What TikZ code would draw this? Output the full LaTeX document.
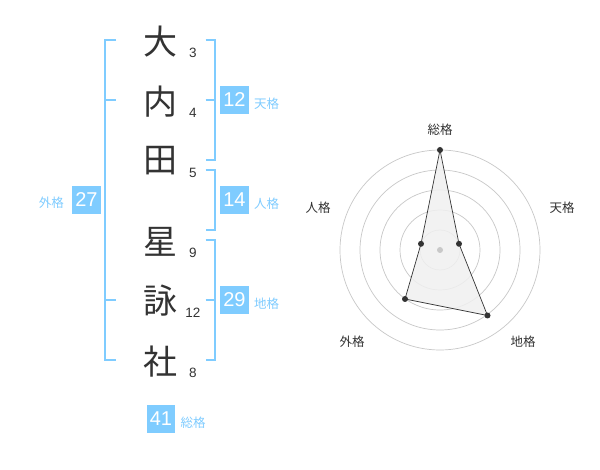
\documentclass[tikz,border=0pt]{standalone}
\usepackage{fontspec}
\setmainfont{Liberation Sans}
\newfontfamily\jp{Noto Sans CJK JP}
\usetikzlibrary{positioning}
\definecolor{kakublue}{HTML}{7FCCFF}
\definecolor{ink}{HTML}{333333}
\definecolor{ring}{HTML}{C8C8C8}
\definecolor{area}{HTML}{F0F0F0}

\begin{document}
\begin{tikzpicture}[x=1pt, y=-1pt,
    kanji/.style={font=\jp\fontsize{34}{34}\selectfont, text=ink, inner sep=0},
    stroke/.style={font=\fontsize{13.5}{13.5}\selectfont, text=ink, inner sep=0},
    score/.style={fill=kakublue, text=white, font=\fontsize{20}{20}\selectfont, minimum size=28.5pt, inner sep=0},
    kaku/.style={font=\jp\fontsize{12.5}{12.5}\selectfont, text=kakublue, inner sep=0},
    brace/.style={draw=kakublue, line width=2pt},
    axis/.style={font=\jp\fontsize{12.5}{12.5}\selectfont, text=ink, inner sep=0},
    dot/.style={circle, fill=ink, inner sep=0, minimum size=6pt}
]
\fill[white] (0,0) rectangle (600,470);
\useasboundingbox (0,0) rectangle (600,470);

% Name characters
\node[kanji] (k1) at (160,42) {大};
\node[kanji] (k2) at (160,102) {内};
\node[kanji] (k3) at (160,161) {田};
\node[kanji] (k4) at (160,242) {星};
\node[kanji] (k5) at (160,301) {詠};
\node[kanji] (k6) at (160,362) {社};

% Stroke counts
\node[stroke] (n1) at (193,53) {3};
\node[stroke] (n2) at (193,113) {4};
\node[stroke] (n3) at (193,173) {5};
\node[stroke] (n4) at (193,253) {9};
\node[stroke] (n5) at (193,313) {12};
\node[stroke] (n6) at (193,373) {8};

% Brackets
\draw[brace] (116,40) -- (105,40) -- (105,360) -- (116,360);
\draw[brace] (105,100) -- (116,100);
\draw[brace] (105,300) -- (116,300);
\draw[brace] (205.5,40) -- (215,40) -- (215,160) -- (205.5,160);
\draw[brace] (205.5,100) -- (215,100);
\draw[brace] (205.5,170) -- (215,170) -- (215,230) -- (205.5,230);
\draw[brace] (205.5,240) -- (215,240) -- (215,360) -- (205.5,360);
\draw[brace] (205.5,300) -- (215,300);

% Scores
\node[score] (s27) at (86.5,200) {27};
\node[score] (s12) at (234.5,100) {12};
\node[score] (s14) at (234.5,200) {14};
\node[score] (s29) at (234.5,300) {29};
\node[score] (s41) at (161,419) {41};

\node[kaku, left=8pt of s27, yshift=-3pt] (l27) {外格};
\node[kaku, right=5pt of s12, yshift=-4pt] (l12) {天格};
\node[kaku, right=5pt of s14, yshift=-4pt] (l14) {人格};
\node[kaku, right=5pt of s29, yshift=-4pt] (l29) {地格};
\node[kaku, right=5pt of s41, yshift=-4pt] (l41) {総格};

% Radar chart
\coordinate (C) at (440,250);
\foreach \r in {20,40,...,100}
  \draw[ring, line width=0.7pt] (C) circle[radius=\r pt];

\coordinate (v1) at (440,150);
\coordinate (v2) at (459,243.8);
\coordinate (v3) at (487.5,315.5);
\coordinate (v4) at (405,299);
\coordinate (v5) at (421,243.8);
\draw[fill=area, fill opacity=0.85, draw=ink, line width=0.7pt] (v1) -- (v2) -- (v3) -- (v4) -- (v5) -- cycle;
\fill[ring] (C) circle[radius=3pt];
\foreach \v in {v1,v2,v3,v4,v5}
  \node[dot] (d\v) at (\v) {};

\node[axis] (a1) at (440,130) {総格};
\node[axis] (a2) at (562,208) {天格};
\node[axis] (a3) at (523,342) {地格};
\node[axis] (a4) at (352,342) {外格};
\node[axis] (a5) at (318,208) {人格};

\end{tikzpicture}
\end{document}
